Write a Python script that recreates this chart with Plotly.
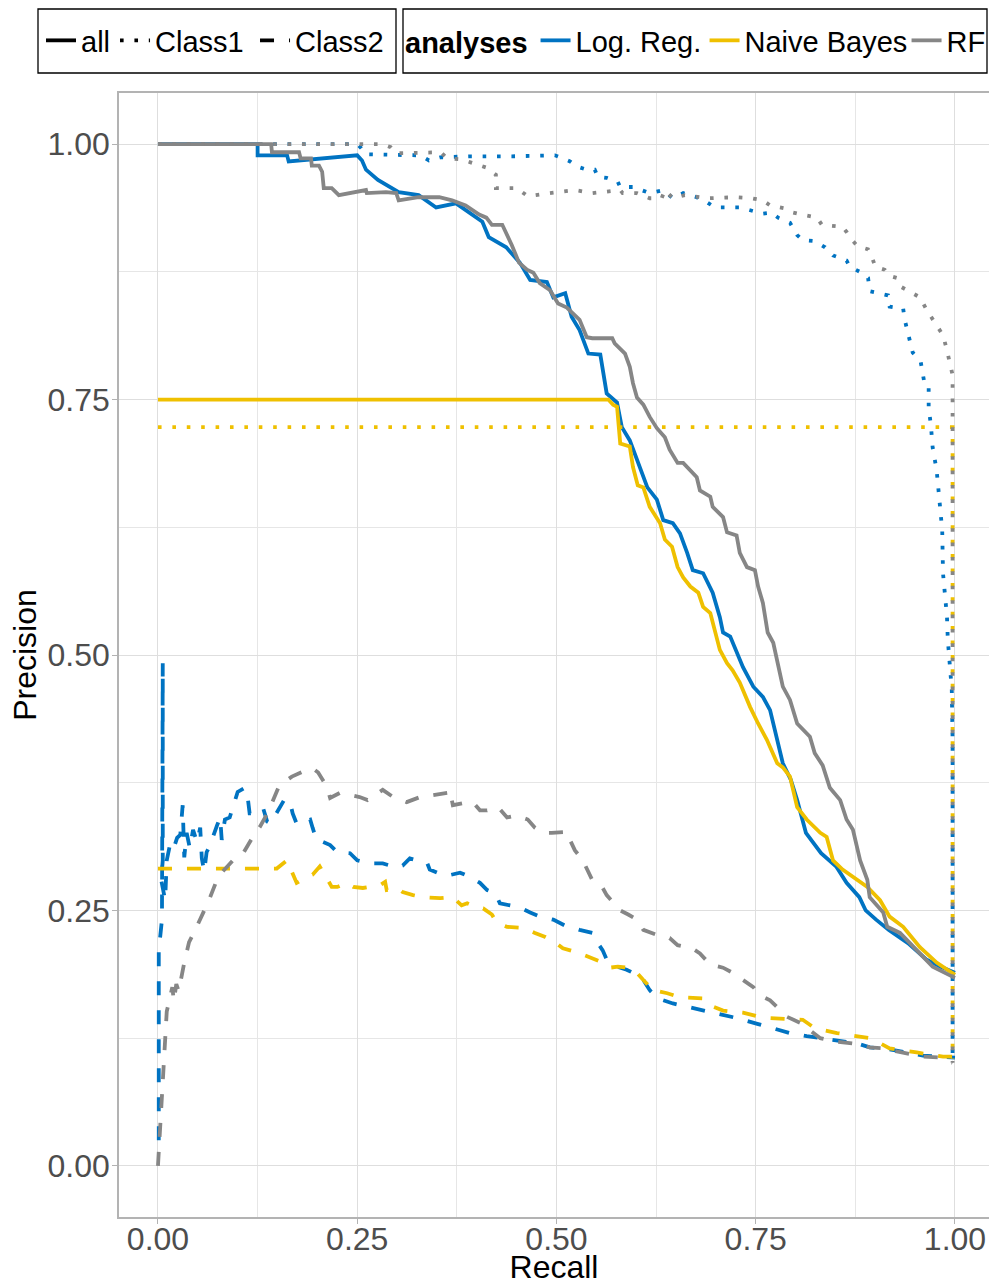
import plotly.graph_objects as go

# ---------------- data: (recall, precision) ----------------
lr_all = [(0, 1.0), (0.125, 1.0), (0.125, 0.989), (0.162, 0.989), (0.164, 0.983), (0.250, 0.989),
          (0.256, 0.984), (0.261, 0.975), (0.276, 0.965), (0.286, 0.960), (0.302, 0.953), (0.327, 0.950),
          (0.349, 0.938), (0.374, 0.942), (0.390, 0.933), (0.407, 0.924), (0.415, 0.909), (0.437, 0.899),
          (0.454, 0.884), (0.467, 0.867), (0.488, 0.865), (0.496, 0.850), (0.511, 0.854), (0.519, 0.831),
          (0.529, 0.818), (0.540, 0.795), (0.555, 0.794), (0.563, 0.756), (0.576, 0.747), (0.582, 0.723),
          (0.592, 0.710), (0.605, 0.684), (0.614, 0.664), (0.626, 0.652), (0.634, 0.632), (0.646, 0.629),
          (0.655, 0.619), (0.664, 0.600), (0.671, 0.583), (0.684, 0.580), (0.696, 0.561), (0.705, 0.537),
          (0.709, 0.522), (0.718, 0.518), (0.726, 0.502), (0.734, 0.488), (0.747, 0.469), (0.759, 0.459),
          (0.768, 0.446), (0.777, 0.417), (0.784, 0.394), (0.794, 0.378), (0.802, 0.358), (0.813, 0.326),
          (0.832, 0.306), (0.851, 0.293), (0.864, 0.277), (0.880, 0.263), (0.888, 0.250), (0.901, 0.241),
          (0.917, 0.231), (0.941, 0.218), (0.964, 0.202), (0.982, 0.195), (1.0, 0.189)]

nb_all = [(0, 0.750), (0.565, 0.750), (0.571, 0.745), (0.576, 0.743), (0.580, 0.707), (0.592, 0.704),
          (0.596, 0.684), (0.602, 0.666), (0.609, 0.664), (0.617, 0.645), (0.630, 0.629), (0.636, 0.613),
          (0.645, 0.606), (0.652, 0.586), (0.659, 0.576), (0.668, 0.567), (0.678, 0.561), (0.684, 0.547),
          (0.693, 0.541), (0.699, 0.524), (0.705, 0.505), (0.714, 0.492), (0.721, 0.485), (0.730, 0.473),
          (0.743, 0.449), (0.753, 0.433), (0.764, 0.417), (0.777, 0.394), (0.784, 0.390), (0.793, 0.381),
          (0.797, 0.368), (0.802, 0.351), (0.814, 0.339), (0.831, 0.326), (0.839, 0.322), (0.847, 0.299),
          (0.859, 0.290), (0.877, 0.280), (0.890, 0.273), (0.906, 0.260), (0.918, 0.244), (0.935, 0.234),
          (0.956, 0.214), (0.977, 0.199), (1.0, 0.187)]

rf_all = [(0, 1.0), (0.142, 1.0), (0.143, 0.992), (0.177, 0.992), (0.179, 0.986), (0.192, 0.986),
          (0.193, 0.979), (0.202, 0.979), (0.206, 0.973), (0.208, 0.957), (0.218, 0.957), (0.227, 0.950),
          (0.261, 0.955), (0.262, 0.952), (0.286, 0.953), (0.299, 0.952), (0.302, 0.945), (0.327, 0.948),
          (0.353, 0.948), (0.369, 0.945), (0.386, 0.940), (0.403, 0.931), (0.412, 0.928), (0.419, 0.921),
          (0.432, 0.921), (0.437, 0.913), (0.444, 0.901), (0.453, 0.884), (0.463, 0.877), (0.471, 0.874),
          (0.479, 0.864), (0.492, 0.857), (0.502, 0.844), (0.513, 0.840), (0.519, 0.835), (0.529, 0.828),
          (0.538, 0.811), (0.545, 0.810), (0.570, 0.810), (0.573, 0.805), (0.586, 0.795), (0.592, 0.782),
          (0.596, 0.766), (0.601, 0.752), (0.609, 0.745), (0.617, 0.733), (0.626, 0.722), (0.636, 0.713),
          (0.642, 0.701), (0.652, 0.688), (0.659, 0.688), (0.676, 0.674), (0.680, 0.661), (0.693, 0.655),
          (0.696, 0.645), (0.709, 0.635), (0.714, 0.620), (0.726, 0.617), (0.730, 0.600), (0.739, 0.586),
          (0.749, 0.583), (0.753, 0.567), (0.759, 0.551), (0.765, 0.522), (0.772, 0.512), (0.777, 0.495),
          (0.784, 0.469), (0.793, 0.456), (0.802, 0.433), (0.818, 0.420), (0.824, 0.404), (0.834, 0.392),
          (0.843, 0.370), (0.856, 0.358), (0.864, 0.339), (0.872, 0.329), (0.881, 0.299), (0.890, 0.280),
          (0.893, 0.263), (0.910, 0.248), (0.915, 0.234), (0.931, 0.228), (0.952, 0.211), (0.972, 0.195),
          (1.0, 0.184)]

lr_class1 = [(0, 1.0), (0.250, 1.0), (0.255, 0.996), (0.261, 0.990), (0.329, 0.989), (0.340, 0.984),
             (0.354, 0.987), (0.391, 0.988), (0.444, 0.988), (0.498, 0.989), (0.508, 0.986), (0.517, 0.983),
             (0.526, 0.978), (0.538, 0.975), (0.548, 0.975), (0.552, 0.968), (0.563, 0.967), (0.577, 0.963),
             (0.580, 0.958), (0.596, 0.958), (0.617, 0.952), (0.634, 0.955), (0.646, 0.947), (0.659, 0.952),
             (0.676, 0.948), (0.689, 0.943), (0.699, 0.938), (0.730, 0.938), (0.749, 0.934), (0.759, 0.932),
             (0.770, 0.933), (0.778, 0.928), (0.793, 0.923), (0.802, 0.911), (0.809, 0.906), (0.824, 0.905),
             (0.837, 0.899), (0.847, 0.891), (0.864, 0.886), (0.868, 0.880), (0.883, 0.874), (0.891, 0.869),
             (0.893, 0.856), (0.916, 0.852), (0.918, 0.841), (0.935, 0.839), (0.937, 0.828), (0.942, 0.810),
             (0.947, 0.796), (0.957, 0.787), (0.961, 0.769), (0.967, 0.766), (0.967, 0.743), (0.970, 0.723),
             (0.972, 0.703), (0.977, 0.681), (0.979, 0.664), (0.981, 0.645), (0.984, 0.622), (0.985, 0.580),
             (0.987, 0.561), (0.990, 0.537), (0.991, 0.515), (0.994, 0.488), (0.996, 0.466), (0.997, 0.417),
             (0.997, 0.107), (1.0, 0.105)]

nb_class1 = [(0, 0.723), (0.997, 0.723), (0.997, 0.105)]

rf_class1 = [(0, 1.0), (0.281, 1.0), (0.292, 0.997), (0.299, 0.991), (0.355, 0.992), (0.363, 0.986),
             (0.381, 0.985), (0.393, 0.982), (0.412, 0.977), (0.424, 0.970), (0.424, 0.957), (0.450, 0.957),
             (0.464, 0.949), (0.482, 0.951), (0.523, 0.955), (0.545, 0.952), (0.580, 0.955), (0.583, 0.952),
             (0.601, 0.952), (0.617, 0.947), (0.632, 0.947), (0.636, 0.955), (0.646, 0.947), (0.661, 0.950),
             (0.690, 0.947), (0.724, 0.948), (0.745, 0.947), (0.759, 0.945), (0.768, 0.940), (0.787, 0.937),
             (0.797, 0.933), (0.814, 0.930), (0.827, 0.928), (0.833, 0.921), (0.859, 0.919), (0.864, 0.914),
             (0.871, 0.906), (0.878, 0.900), (0.891, 0.897), (0.896, 0.889), (0.900, 0.880), (0.912, 0.877),
             (0.918, 0.871), (0.927, 0.869), (0.933, 0.860), (0.947, 0.854), (0.956, 0.850), (0.965, 0.837),
             (0.972, 0.828), (0.979, 0.820), (0.985, 0.813), (0.990, 0.798), (0.994, 0.786), (0.997, 0.774),
             (0.997, 0.101)]

lr_class2 = [(0.001, 0.025), (0.001, 0.211), (0.005, 0.241), (0.006, 0.492), (0.006, 0.299), (0.004, 0.280),
             (0.009, 0.260), (0.011, 0.299), (0.015, 0.314), (0.019, 0.309), (0.024, 0.321), (0.028, 0.324),
             (0.031, 0.353), (0.033, 0.302), (0.036, 0.326), (0.040, 0.311), (0.044, 0.329), (0.049, 0.317),
             (0.053, 0.331), (0.055, 0.301), (0.058, 0.288), (0.061, 0.307), (0.065, 0.313), (0.074, 0.333),
             (0.078, 0.341), (0.080, 0.319), (0.084, 0.339), (0.090, 0.341), (0.097, 0.358), (0.100, 0.366),
             (0.109, 0.370), (0.113, 0.358), (0.115, 0.345), (0.124, 0.345), (0.132, 0.350), (0.137, 0.337),
             (0.141, 0.335), (0.153, 0.352), (0.159, 0.359), (0.166, 0.355), (0.169, 0.345), (0.174, 0.335),
             (0.182, 0.337), (0.191, 0.339), (0.194, 0.331), (0.199, 0.319), (0.207, 0.317), (0.216, 0.314),
             (0.225, 0.307), (0.241, 0.306), (0.250, 0.299), (0.266, 0.296), (0.282, 0.296), (0.300, 0.292),
             (0.307, 0.294), (0.316, 0.301), (0.325, 0.299), (0.338, 0.296), (0.341, 0.290), (0.350, 0.287),
             (0.363, 0.284), (0.379, 0.287), (0.391, 0.283), (0.404, 0.277), (0.413, 0.270), (0.423, 0.267),
             (0.429, 0.257), (0.442, 0.255), (0.454, 0.253), (0.467, 0.248), (0.479, 0.244), (0.496, 0.241),
             (0.511, 0.235), (0.521, 0.233), (0.529, 0.231), (0.545, 0.228), (0.551, 0.219), (0.558, 0.211),
             (0.563, 0.202), (0.576, 0.195), (0.588, 0.192), (0.596, 0.189), (0.609, 0.182), (0.617, 0.172),
             (0.627, 0.164), (0.646, 0.159), (0.668, 0.155), (0.689, 0.151), (0.709, 0.148), (0.730, 0.144),
             (0.752, 0.139), (0.772, 0.135), (0.793, 0.130), (0.814, 0.127), (0.834, 0.125), (0.856, 0.123),
             (0.877, 0.120), (0.893, 0.116), (0.918, 0.114), (0.940, 0.111), (0.960, 0.108), (0.981, 0.107),
             (1.0, 0.106)]

nb_class2 = [(0, 0.291), (0.149, 0.291), (0.162, 0.299), (0.168, 0.288), (0.174, 0.277), (0.187, 0.283),
             (0.194, 0.285), (0.203, 0.293), (0.207, 0.287), (0.213, 0.280), (0.218, 0.273), (0.225, 0.273),
             (0.237, 0.277), (0.245, 0.273), (0.257, 0.272), (0.279, 0.275), (0.285, 0.278), (0.287, 0.270),
             (0.300, 0.272), (0.307, 0.268), (0.320, 0.265), (0.332, 0.263), (0.354, 0.262), (0.370, 0.263),
             (0.381, 0.255), (0.388, 0.257), (0.400, 0.253), (0.408, 0.252), (0.419, 0.246), (0.425, 0.238),
             (0.438, 0.234), (0.458, 0.233), (0.473, 0.228), (0.486, 0.224), (0.498, 0.219), (0.508, 0.213),
             (0.526, 0.209), (0.538, 0.205), (0.555, 0.200), (0.567, 0.194), (0.577, 0.195), (0.590, 0.194),
             (0.601, 0.189), (0.609, 0.182), (0.621, 0.172), (0.639, 0.169), (0.655, 0.165), (0.684, 0.164),
             (0.696, 0.156), (0.709, 0.152), (0.734, 0.150), (0.759, 0.145), (0.789, 0.144), (0.809, 0.143),
             (0.822, 0.136), (0.834, 0.133), (0.852, 0.130), (0.881, 0.126), (0.893, 0.125), (0.906, 0.120),
             (0.918, 0.115), (0.952, 0.111), (0.985, 0.107), (1.0, 0.107)]

rf_class2 = [(0, 0.0), (0.001, 0.014), (0.004, 0.068), (0.008, 0.123), (0.011, 0.151), (0.018, 0.175),
             (0.020, 0.161), (0.023, 0.178), (0.026, 0.171), (0.033, 0.199), (0.039, 0.219), (0.048, 0.233),
             (0.055, 0.244), (0.064, 0.260), (0.073, 0.278), (0.080, 0.287), (0.094, 0.299), (0.107, 0.306),
             (0.119, 0.322), (0.128, 0.332), (0.138, 0.346), (0.151, 0.370), (0.157, 0.375), (0.168, 0.381),
             (0.182, 0.386), (0.194, 0.389), (0.201, 0.385), (0.206, 0.378), (0.212, 0.371), (0.216, 0.360),
             (0.228, 0.365), (0.241, 0.363), (0.253, 0.361), (0.263, 0.358), (0.282, 0.368), (0.295, 0.361),
             (0.312, 0.356), (0.329, 0.361), (0.345, 0.363), (0.363, 0.365), (0.366, 0.368), (0.370, 0.353),
             (0.383, 0.355), (0.395, 0.356), (0.404, 0.348), (0.413, 0.348), (0.427, 0.351), (0.438, 0.341),
             (0.450, 0.343), (0.464, 0.339), (0.473, 0.331), (0.483, 0.326), (0.494, 0.326), (0.514, 0.327),
             (0.517, 0.319), (0.523, 0.309), (0.533, 0.299), (0.540, 0.287), (0.546, 0.278), (0.558, 0.272),
             (0.563, 0.265), (0.571, 0.258), (0.580, 0.250), (0.590, 0.246), (0.601, 0.241), (0.609, 0.231),
             (0.626, 0.226), (0.642, 0.223), (0.652, 0.216), (0.670, 0.213), (0.680, 0.208), (0.693, 0.197),
             (0.709, 0.194), (0.721, 0.189), (0.734, 0.182), (0.747, 0.175), (0.755, 0.167), (0.768, 0.162),
             (0.780, 0.153), (0.789, 0.146), (0.806, 0.140), (0.818, 0.133), (0.831, 0.125), (0.847, 0.122),
             (0.881, 0.119), (0.893, 0.116), (0.910, 0.115), (0.927, 0.112), (0.944, 0.109), (0.960, 0.107),
             (0.981, 0.106), (0.997, 0.101)]

analyses = ["Log. Reg.", "Naive Bayes", "RF"]
line_types = ["all", "Class1", "Class2"]
colors = {"Log. Reg.": "#0073C2", "Naive Bayes": "#EFC000", "RF": "#868686"}
curves = {
    ("Log. Reg.", "all"): lr_all, ("Log. Reg.", "Class1"): lr_class1, ("Log. Reg.", "Class2"): lr_class2,
    ("Naive Bayes", "all"): nb_all, ("Naive Bayes", "Class1"): nb_class1, ("Naive Bayes", "Class2"): nb_class2,
    ("RF", "all"): rf_all, ("RF", "Class1"): rf_class1, ("RF", "Class2"): rf_class2,
}

LW = 3.8
dashes = {"all": "solid", "Class1": "3.6px,10.8px", "Class2": "14px,15px"}

fig = go.Figure()
for model in analyses:
    for lt in line_types:
        pts = curves[(model, lt)]
        fig.add_trace(go.Scatter(
            x=[p[0] for p in pts], y=[p[1] for p in pts], mode="lines",
            line=dict(color=colors[model], width=LW, dash=dashes[lt]),
            showlegend=False, hoverinfo="skip"))

# legend entries (width tweaks only affect legend spacing)
lt_widths = {"all": None, "Class1": 95, "Class2": None}
for lt in line_types:
    fig.add_trace(go.Scatter(x=[None], y=[None], mode="lines", name=lt,
                             line=dict(color="black", width=LW, dash=dashes[lt]),
                             legend="legend", showlegend=True, legendwidth=lt_widths[lt]))
model_widths = {"Log. Reg.": 124, "Naive Bayes": 157, "RF": None}
for model in analyses:
    fig.add_trace(go.Scatter(x=[None], y=[None], mode="lines", name=model,
                             line=dict(color=colors[model], width=LW),
                             legend="legend2", showlegend=True, legendwidth=model_widths[model]))

FONT = "Liberation Sans, Arial, Helvetica, sans-serif"
tick_vals = [0, 0.25, 0.5, 0.75, 1.0]
tick_text = ["0.00", "0.25", "0.50", "0.75", "1.00"]

axis_common = dict(
    tickvals=tick_vals, ticktext=tick_text,
    showgrid=True, gridcolor="#DEDEDE", gridwidth=1.4,
    minor=dict(tick0=0, dtick=0.125, showgrid=True, gridcolor="#E6E6E6", gridwidth=1),
    zeroline=False, showline=True, linecolor="#B3B3B3", linewidth=1.5,
    ticks="outside", ticklen=5, tickcolor="#B3B3B3", tickwidth=1.2,
    tickfont=dict(size=32, color="#4D4D4D", family=FONT),
    automargin=False,
)

# plot area: x 119..989 px, y 93..1217 px
PW, PH = 870.0, 1124.0
def px_x(p):
    return (p - 119) / PW
def px_y(p):
    return (1217 - p) / PH

fig.update_layout(
    width=989, height=1285,
    margin=dict(l=119, r=0, t=93, b=68, autoexpand=False),
    plot_bgcolor="white", paper_bgcolor="white",
    font=dict(family=FONT, color="black"),
    xaxis=dict(range=[-0.0489, 1.0427], mirror=True, ticklabelstandoff=-12,
               title=dict(text="Recall", font=dict(size=32, color="black"), standoff=20),
               **axis_common),
    yaxis=dict(range=[-0.05, 1.05], mirror=False, ticklabelstandoff=-4,
               title=dict(text="Precision", font=dict(size=32, color="black"), standoff=1),
               **axis_common),
    legend=dict(orientation="h", x=px_x(41), xanchor="left", y=px_y(15), yanchor="top",
                borderwidth=0, bgcolor="rgba(0,0,0,0)",
                font=dict(size=29, color="black"), itemwidth=30, traceorder="normal"),
    legend2=dict(orientation="h", x=px_x(403), xanchor="left", y=px_y(15), yanchor="top",
                 borderwidth=0, bgcolor="rgba(0,0,0,0)",
                 font=dict(size=29, color="black"), itemwidth=30, traceorder="normal",
                 title=dict(text="<b>analyses</b>", font=dict(size=29, color="black"), side="left")),
    shapes=[
        dict(type="rect", xref="paper", yref="paper", x0=px_x(38), x1=px_x(396), y0=px_y(73), y1=px_y(9),
             line=dict(color="black", width=1.3), fillcolor="rgba(0,0,0,0)", layer="above"),
        dict(type="rect", xref="paper", yref="paper", x0=px_x(403), x1=px_x(987), y0=px_y(73), y1=px_y(9),
             line=dict(color="black", width=1.3), fillcolor="rgba(0,0,0,0)", layer="above"),
    ],
)

fig.write_html("out.html")
